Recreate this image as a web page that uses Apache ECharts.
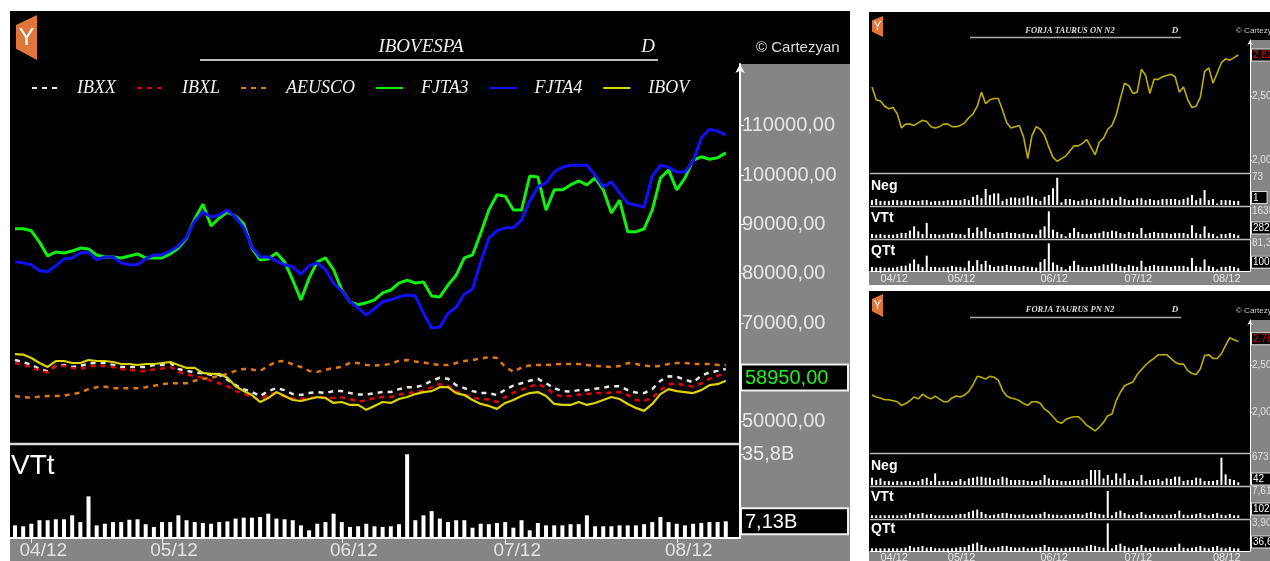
<!DOCTYPE html>
<html>
<head>
<meta charset="utf-8">
<title>IBOVESPA / FORJA TAURUS</title>
<script src="https://cdn.jsdelivr.net/npm/echarts@6/dist/echarts.min.js"></script>
<style>
  html, body { margin: 0; padding: 0; background: #fff; }
  #chart { width: 1270px; height: 561px; }
</style>
</head>
<body>
<div id="chart"></div>
<script>
// trading-day index where each month starts, and its label
const monthTicks = [2, 18, 40, 60, 81];
const monthLabels = ['04/12', '05/12', '06/12', '07/12', '08/12'];

// big chart: IBOVESPA comparison
const ibxx = [62500,62100,61500,60700,60200,61300,61500,61100,61300,61800,
  61900,61900,61500,61100,61100,61100,61100,61500,61500,61900,
  60700,60300,60000,59800,59500,59500,58500,57400,56600,56000,
  55200,56200,56800,56400,55600,55400,55800,56000,55800,56200,
  56200,55800,55500,55500,55800,56000,56000,56600,57000,57000,
  57400,58300,58900,58700,57400,56800,56200,55800,55800,55400,
  56500,57300,57800,58300,58700,57800,56800,56200,56100,56400,
  56400,56700,56900,57200,57200,56400,55900,55800,56600,58300,
  59200,59100,58500,58000,59300,60000,60300,60700];
const ibxl = [61900,61500,61100,60300,60000,61300,61300,60900,60700,61200,
  61300,61300,61100,60700,60500,60300,60200,60600,60800,61100,
  60100,59600,59200,58900,58300,57800,57200,56200,55700,55000,
  54400,55600,55800,55100,54700,54600,54800,54900,54900,54800,
  54900,54600,54100,54300,54800,55000,55000,55500,55800,56000,
  56300,57000,57600,57300,56100,55500,54900,54600,54500,54000,
  55000,55900,56500,57100,57600,56900,55600,55100,55200,55500,
  55600,55800,55800,55900,56000,55400,54400,54200,54800,56400,
  57600,57700,57400,57100,57800,58700,59300,59900];
const aeusco = [55200,55000,54800,55100,55200,55200,55300,55600,55900,56600,
  57000,57100,56800,56800,56800,56800,57000,57300,57600,57800,
  57800,57800,58300,58700,58900,59300,59700,60300,60700,60600,
  60300,61300,62200,62300,61600,61100,60300,60100,60500,60900,
  61100,61900,61900,61500,61400,61500,61700,62400,62500,62200,
  62000,61700,61500,61500,61900,62300,62500,62800,63100,62900,
  61100,60100,61000,61400,61500,61500,61600,61700,61700,61700,
  61500,61300,61200,61100,61300,61900,61700,61400,61200,61300,
  61700,61900,61900,61700,61700,61700,61500,61500];
const fjta3 = [89100,89100,88700,86400,83600,84400,84200,84600,85200,85000,
  83800,83400,83400,83200,83600,84000,83200,83200,83200,84000,
  85200,87200,91100,94100,89700,91300,92500,91700,90100,85200,
  82800,83000,84200,82400,78700,74700,79100,82400,83200,80800,
  76700,74300,73700,74100,74700,76100,76700,78100,78700,78100,
  78300,75500,75300,77700,79700,83200,83800,88200,92900,96000,
  95700,92900,92900,99800,99600,92900,97000,97000,98000,98800,
  98000,99400,97000,92300,94900,88500,88500,89100,92900,99400,
  101000,97000,99400,103000,103700,103200,103500,104500];
const fjta4 = [82400,82200,81800,80600,80400,81600,83000,83200,84200,84400,
  82800,83400,83400,82200,81800,81800,83000,83800,83800,84600,
  85600,87400,90700,92500,91500,91900,92900,91500,89300,85400,
  83400,83400,82600,81800,81400,79900,81600,82200,80800,78100,
  76500,74300,73100,71600,72900,74300,74700,75300,75700,75500,
  72000,69000,69200,72000,73200,75900,76900,82400,87200,88700,
  89300,89300,90900,94700,97600,98400,100600,101600,102000,102000,
  102000,100000,97600,98600,96400,94300,93900,93500,99800,102000,
  101600,100600,100600,102800,107500,109300,108900,108100];
const ibov = [63700,63600,62900,61900,61100,62300,62300,61900,61900,62500,
  62300,62300,62100,61700,61700,61500,61700,61700,61900,62100,
  61500,60900,60900,59900,59700,59700,58900,57200,56200,55400,
  54000,54800,56000,55200,54400,54200,54600,55000,54800,53800,
  54000,53400,53400,52400,53200,54000,53800,54600,55000,55600,
  56000,56200,57000,57000,55800,55400,54400,53600,53200,52600,
  53800,54400,55200,55800,56000,55200,53600,53400,53400,54000,
  53400,53800,54400,55000,54600,53600,52800,52200,53600,55600,
  56600,56200,56000,55800,56400,57400,57600,58300];
const ibovLast = 58950;
// traded volume, billions
const vtt = [5.4,5.0,6.1,7.6,7.6,8.0,8.0,9.7,6.8,17.8,
  5.4,6.1,6.8,6.8,7.8,8.0,5.9,4.7,6.8,6.8,
  9.7,7.6,6.8,6.4,6.1,6.8,7.1,8.3,8.7,8.7,
  9.0,10.4,8.3,8.0,7.6,5.4,3.3,6.1,6.8,10.4,
  6.8,4.7,5.0,6.1,5.0,4.7,5.0,5.9,35.8,7.6,
  9.7,11.5,8.3,6.8,7.6,7.6,4.4,6.1,5.9,6.4,
  6.8,4.4,7.6,3.3,6.4,5.4,5.4,5.4,5.9,5.9,
  9.7,5.0,5.0,5.0,5.4,5.4,5.4,5.9,6.8,9.0,
  6.8,6.1,5.4,6.1,6.4,6.8,6.8,7.13];

// FORJA TAURUS ON N2
const onN2 = [2.57,2.47,2.46,2.42,2.40,2.41,2.36,2.25,2.28,2.28,
  2.27,2.29,2.31,2.30,2.26,2.25,2.26,2.28,2.28,2.26,
  2.26,2.27,2.29,2.33,2.36,2.42,2.53,2.44,2.47,2.48,
  2.48,2.39,2.29,2.25,2.26,2.27,2.18,2.01,2.19,2.26,
  2.24,2.19,2.10,2.02,1.99,2.01,2.03,2.07,2.11,2.11,
  2.13,2.16,2.10,2.04,2.14,2.17,2.24,2.27,2.35,2.48,
  2.60,2.58,2.52,2.53,2.71,2.66,2.52,2.63,2.63,2.65,
  2.66,2.67,2.65,2.53,2.57,2.47,2.41,2.42,2.49,2.69,
  2.72,2.60,2.68,2.76,2.79,2.78,2.80,2.82];
const negOn = [13,16,11,11,11,13,13,11,13,13,
  11,11,13,13,9,11,11,11,13,13,
  13,13,16,13,22,27,18,43,27,31,
  31,11,16,20,20,18,20,25,22,16,
  11,22,27,45,73,7,16,16,13,11,
  13,16,13,16,13,18,13,18,13,22,
  16,13,13,18,18,13,16,13,13,16,
  16,16,16,13,16,20,27,13,18,40,
  13,16,4,13,13,13,11,11];
const vttOn = [24,20,24,20,20,20,24,31,31,45,
  71,41,24,92,24,24,20,24,24,31,
  24,24,20,61,31,65,41,61,37,24,
  31,31,37,31,31,24,31,24,24,20,
  51,71,163,51,37,24,10,31,61,37,
  24,24,24,31,31,41,37,45,41,31,
  24,37,31,24,61,24,31,37,31,31,
  31,24,31,31,31,24,78,31,24,71,
  31,24,10,24,24,31,24,16];
const qttOn = [12,10,12,10,10,10,12,15,16,22,
  34,20,12,45,12,12,10,12,12,15,
  12,12,10,30,15,32,20,30,18,12,
  15,15,18,15,15,12,15,12,12,10,
  26,35,81.3,25,18,12,5,15,30,18,
  12,12,12,15,15,20,18,22,20,15,
  12,18,15,12,30,12,15,18,15,15,
  15,12,15,15,15,12,38,15,12,34,
  15,12,5,12,12,15,12,8];

// FORJA TAURUS PN N2
const pnN2 = [2.18,2.16,2.15,2.13,2.13,2.12,2.11,2.07,2.09,2.12,
  2.16,2.14,2.19,2.16,2.14,2.17,2.14,2.11,2.11,2.15,
  2.17,2.16,2.18,2.22,2.29,2.38,2.37,2.35,2.38,2.37,
  2.34,2.23,2.17,2.15,2.14,2.12,2.09,2.07,2.11,2.11,
  2.09,2.03,2.00,1.95,1.90,1.88,1.92,1.94,1.95,1.95,
  1.91,1.86,1.83,1.80,1.84,1.89,1.96,1.98,2.12,2.21,
  2.28,2.30,2.32,2.40,2.45,2.50,2.54,2.57,2.61,2.61,
  2.61,2.57,2.53,2.51,2.51,2.44,2.41,2.40,2.46,2.60,
  2.61,2.57,2.57,2.62,2.71,2.79,2.77,2.75];
const pnLast = 2.78;
const negPn = [180,123,164,98,98,82,98,82,98,98,
  82,98,148,180,98,287,98,98,98,82,
  98,148,98,164,180,205,205,180,180,123,
  148,205,180,123,123,123,123,98,98,98,
  123,246,164,123,123,98,98,98,123,123,
  123,148,369,369,369,164,246,123,287,164,
  287,123,148,98,246,98,123,123,148,98,
  164,148,205,205,98,123,123,180,164,98,
  98,98,123,673,262,148,123,66];
const vttPn = [0.76,0.76,0.76,0.76,0.76,0.76,0.76,0.76,0.95,1.43,
  0.95,1.14,1.43,0.95,1.14,0.76,0.76,0.76,0.76,0.76,
  0.95,1.14,1.14,1.71,2.09,2.38,1.71,1.14,0.76,0.95,
  1.14,1.43,1.43,1.14,0.95,0.95,1.14,0.76,0.95,0.95,
  1.14,1.71,1.14,0.95,0.95,0.76,0.95,0.95,1.14,1.14,
  0.95,1.43,1.71,1.43,1.14,0.95,7.61,0.76,1.71,2.09,
  1.43,0.95,0.76,1.14,1.71,0.95,0.76,1.14,0.95,0.76,
  0.95,0.95,1.14,2.09,0.95,0.76,0.95,1.14,1.43,0.95,
  0.76,1.14,1.43,0.95,0.76,1.14,0.76,0.76];
const qttPn = [0.38,0.38,0.38,0.38,0.38,0.38,0.38,0.38,0.47,0.71,
  0.47,0.56,0.71,0.47,0.56,0.38,0.38,0.38,0.38,0.38,
  0.47,0.56,0.56,0.85,1.03,1.18,0.85,0.56,0.38,0.47,
  0.56,0.71,0.71,0.56,0.47,0.47,0.56,0.38,0.47,0.47,
  0.56,0.85,0.56,0.47,0.47,0.38,0.47,0.47,0.56,0.56,
  0.47,0.71,0.85,0.71,0.56,0.47,3.90,0.38,0.85,1.03,
  0.71,0.47,0.38,0.56,0.85,0.47,0.38,0.56,0.47,0.38,
  0.47,0.47,0.56,1.03,0.47,0.38,0.47,0.56,0.71,0.47,
  0.38,0.56,0.71,0.47,0.38,0.56,0.38,0.38];

// side labels of the small bar panels: [top text, boxed text]
const panelTexts = {
  negOn: ['73', '1'], vttOn: ['163K', '282'], qttOn: ['81,3', '100'],
  negPn: ['673', '42'], vttPn: ['7,61', '102K'], qttPn: ['3,90', '36,6']
};

const SANS = 'Liberation Sans, Arial, sans-serif';
const SERIF = 'Liberation Serif, Times New Roman, serif';
const GRAY = '#858585';
const pairs = arr => arr.map((v, i) => [i, v]);
const comma = (v, d) => v.toFixed(d).replace('.', ',');
const peak = arr => Math.max(...arr);

const chart = echarts.init(document.getElementById('chart'));

const bigX = { min: -0.61, max: 88.74 };
const smallX = { min: -0.475, max: 89.79 };

function hiddenX(grid, range) {
  return { type: 'value', gridIndex: grid, min: range.min, max: range.max, show: false };
}
function monthX(grid, range, opts) {
  return {
    type: 'value', gridIndex: grid, min: range.min, max: range.max,
    axisLine: { show: true, onZero: false, lineStyle: { color: '#fff', width: opts.lineW } },
    axisTick: { show: true, customValues: monthTicks, length: opts.tickLen, lineStyle: { color: '#fff' } },
    axisLabel: {
      customValues: monthTicks,
      formatter: v => monthLabels[monthTicks.indexOf(v)],
      color: '#e4e4e4', fontSize: opts.fontSize, fontFamily: SANS,
      margin: opts.margin, align: opts.align, padding: opts.padding
    },
    splitLine: { show: false }
  };
}
function barPanelY(grid, max, data, texts, boxVal) {
  const top = peak(data);
  return {
    type: 'value', gridIndex: grid, position: 'right', min: 0, max: max,
    axisLine: { show: true, onZero: false, lineStyle: { color: '#fff', width: 1 } },
    axisTick: { show: false },
    axisLabel: {
      customValues: [boxVal, top],
      formatter: v => v === top ? texts[0] : '{box|' + texts[1] + '}',
      color: '#e0e0e0', fontSize: 10, fontFamily: SANS, margin: 2,
      rich: { box: { color: '#fff', backgroundColor: '#000', borderColor: '#ddd', borderWidth: 1,
        padding: [1, 8, 0, 1], fontSize: 10, fontFamily: SANS } }
    },
    splitLine: { show: false }
  };
}
function priceY(grid, min, max, last) {
  return {
    type: 'value', gridIndex: grid, position: 'right', min: min, max: max,
    axisLine: { show: true, onZero: false, lineStyle: { color: '#fff', width: 1 },
      symbol: ['none', 'arrow'], symbolSize: [4, 5] },
    axisTick: { show: true, customValues: [2.0, 2.5], length: 2, lineStyle: { color: '#fff' } },
    axisLabel: {
      customValues: [2.0, 2.5, last],
      formatter: v => v === last ? '{cur|' + comma(v, 2) + '}' : comma(v, 2),
      color: '#e0e0e0', fontSize: 10, fontFamily: SANS, margin: 2,
      rich: { cur: { color: '#e00000', backgroundColor: '#000', borderColor: '#ddd', borderWidth: 1,
        padding: [1, 6, 0, 1], fontSize: 10, fontFamily: SANS } }
    },
    splitLine: { show: false }
  };
}
function smallBars(name, data, ax) {
  return { name: name, type: 'bar', xAxisIndex: ax, yAxisIndex: ax, data: pairs(data),
    barWidth: 2, itemStyle: { color: '#fff' }, silent: true };
}
function dashLine(name, data, color) {
  return { name: name, type: 'line', xAxisIndex: 0, yAxisIndex: 0, data: pairs(data),
    symbol: 'none', showSymbol: false,
    lineStyle: { color: color, width: 2.5, type: [5, 5] }, itemStyle: { color: color } };
}
function solidLine(name, data, color, w) {
  return { name: name, type: 'line', xAxisIndex: 0, yAxisIndex: 0, data: pairs(data),
    symbol: 'none', showSymbol: false,
    lineStyle: { color: color, width: w }, itemStyle: { color: color } };
}

function logo(x, y, w, h, size) {
  return [
    { type: 'polygon', z: -5, shape: { points: [[x, y + h * 0.22], [x + w, y], [x + w, y + h], [x, y + h * 0.75]] },
      style: { fill: '#e0763a' } },
    { type: 'text', z: -4, style: { text: 'Y', x: x + w * 0.5, y: y + h * 0.52, align: 'center', verticalAlign: 'middle',
      font: size + 'px ' + SANS, fill: '#fff' } }
  ];
}
function rect(x, y, w, h, fill) {
  return { type: 'rect', z: -10, shape: { x: x, y: y, width: w, height: h }, style: { fill: fill } };
}
function hline(x1, x2, y, color, w) {
  return { type: 'line', z: -3, shape: { x1: x1, y1: y, x2: x2, y2: y }, style: { stroke: color, lineWidth: w } };
}
function txt(text, x, y, font, fill, align, vAlign) {
  return { type: 'text', z: -2, style: { text: text, x: x, y: y, font: font, fill: fill,
    align: align || 'left', verticalAlign: vAlign || 'middle' } };
}

const graphic = [
  // backgrounds
  rect(10, 11, 840, 550, '#000'),
  rect(740, 64, 110, 497, GRAY),
  rect(10, 538, 730, 23, GRAY),
  rect(869, 12, 401, 273, '#000'),
  rect(1250, 40, 20, 245, GRAY),
  rect(869, 272, 381, 13, GRAY),
  rect(869, 291, 401, 270, '#000'),
  rect(1250, 320, 20, 241, GRAY),
  rect(869, 552, 381, 9, GRAY),
  // big chart decorations
  ...logo(16, 15, 21, 45, 24),
  txt('IBOVESPA', 421, 47, 'italic 19px ' + SERIF, '#eee', 'center'),
  txt('D', 648, 47, 'italic 19px ' + SERIF, '#eee', 'center'),
  hline(200, 658, 60, '#bdbdbd', 2),
  txt('\u00a9 Cartezyan', 756, 48, '15px ' + SANS, '#ddd'),
  hline(10, 740, 444, '#d8d8d8', 2.5),
  txt('VTt', 11, 466, '28px ' + SANS, '#fff'),
  // top right panel
  ...logo(872, 16, 11, 21, 12),
  txt('FORJA TAURUS ON N2', 1070, 31, 'italic bold 8.5px ' + SERIF, '#ddd', 'center'),
  txt('D', 1175, 31, 'italic bold 9px ' + SERIF, '#ddd', 'center'),
  hline(970, 1181, 37.5, '#aaa', 1.5),
  txt('\u00a9 Cartezyan', 1236, 31, '8px ' + SANS, '#ccc'),
  hline(870, 1250, 173.5, '#bbb', 1.5),
  hline(870, 1250, 206.5, '#bbb', 1.5),
  hline(870, 1250, 239.5, '#bbb', 1.5),
  txt('Neg', 871, 186, 'bold 14px ' + SANS, '#fff'),
  txt('VTt', 871, 218, 'bold 14px ' + SANS, '#fff'),
  txt('QTt', 871, 251, 'bold 14px ' + SANS, '#fff'),
  // bottom right panel
  ...logo(872, 294, 11, 23, 12),
  txt('FORJA TAURUS PN N2', 1070, 310, 'italic bold 8.5px ' + SERIF, '#ddd', 'center'),
  txt('D', 1175, 310, 'italic bold 9px ' + SERIF, '#ddd', 'center'),
  hline(970, 1181, 317.5, '#aaa', 1.5),
  txt('\u00a9 Cartezyan', 1236, 311, '8px ' + SANS, '#ccc'),
  hline(870, 1250, 453.5, '#bbb', 1.5),
  hline(870, 1250, 486.5, '#bbb', 1.5),
  hline(870, 1250, 519.5, '#bbb', 1.5),
  txt('Neg', 871, 466, 'bold 14px ' + SANS, '#fff'),
  txt('VTt', 871, 497, 'bold 14px ' + SANS, '#fff'),
  txt('QTt', 871, 529, 'bold 14px ' + SANS, '#fff')
];

const g = (left, top, width, height) => ({ left, top, width, height, outerBoundsMode: 'none', containLabel: false });

chart.setOption({
  animation: false,
  backgroundColor: '#fff',
  graphic: graphic,
  legend: {
    data: ['IBXX', 'IBXL', 'AEUSCO', 'FJTA3', 'FJTA4', 'IBOV'],
    left: 26, top: 74, itemWidth: 27, itemHeight: 16, itemGap: 20,
    itemStyle: { opacity: 0 },
    textStyle: { color: '#f0f0f0', fontFamily: SERIF, fontStyle: 'italic', fontSize: 18, padding: [0, 0, 0, 13] }
  },
  grid: [
    g(10, 64, 730, 380),
    g(10, 444, 730, 94),
    g(870, 40, 380, 133),
    g(870, 174, 380, 31),
    g(870, 207, 380, 31),
    g(870, 240, 380, 31),
    g(870, 320, 380, 133),
    g(870, 454, 380, 31),
    g(870, 487, 380, 31),
    g(870, 520, 380, 31)
  ],
  xAxis: [
    hiddenX(0, bigX),
    monthX(1, bigX, { lineW: 2, tickLen: 5, fontSize: 19, margin: 3, align: 'center', padding: [0, 0, 0, 24] }),
    hiddenX(2, smallX), hiddenX(3, smallX), hiddenX(4, smallX),
    monthX(5, smallX, { lineW: 1, tickLen: 2, fontSize: 11, margin: 2, align: 'left', padding: [0, 0, 0, 0] }),
    hiddenX(6, smallX), hiddenX(7, smallX), hiddenX(8, smallX),
    monthX(9, smallX, { lineW: 1, tickLen: 2, fontSize: 11, margin: 1, align: 'left', padding: [0, 0, 0, 0] })
  ],
  yAxis: [
    {
      type: 'value', gridIndex: 0, position: 'right', min: 45480, max: 122510,
      axisLine: { show: true, onZero: false, lineStyle: { color: '#fff', width: 2 },
        symbol: ['none', 'arrow'], symbolSize: [7, 9] },
      axisTick: { show: true, customValues: [50000, 60000, 70000, 80000, 90000, 100000, 110000], length: 4,
        lineStyle: { color: '#fff' } },
      axisLabel: {
        customValues: [50000, ibovLast, 70000, 80000, 90000, 100000, 110000],
        formatter: v => v === ibovLast ? '{cur|' + comma(v, 2) + '}' : comma(v, 2),
        color: '#e6e6e6', fontSize: 20, fontFamily: SANS, margin: 2,
        rich: { cur: { color: '#22ee22', backgroundColor: '#000', borderColor: '#f0f0f0', borderWidth: 2,
          padding: [3, 2, 1, 3], width: 100, fontSize: 20, fontFamily: SANS } }
      },
      splitLine: { show: false }
    },
    {
      type: 'value', gridIndex: 1, position: 'right', min: 0, max: 40.2,
      axisLine: { show: true, onZero: false, lineStyle: { color: '#fff', width: 2 } },
      axisTick: { show: true, customValues: [vtt[vtt.length - 1], peak(vtt)], length: 4, lineStyle: { color: '#fff' } },
      axisLabel: {
        customValues: [vtt[vtt.length - 1], peak(vtt)],
        formatter: v => v === peak(vtt) ? comma(v, 1) + 'B' : '{cur|' + comma(v, 2) + 'B}',
        color: '#e6e6e6', fontSize: 20, fontFamily: SANS, margin: 2,
        rich: { cur: { color: '#fff', backgroundColor: '#000', borderColor: '#f0f0f0', borderWidth: 2,
          padding: [3, 2, 1, 3], width: 100, fontSize: 20, fontFamily: SANS } }
      },
      splitLine: { show: false }
    },
    priceY(2, 1.898, 2.9375, onN2[onN2.length - 1]),
    barPanelY(3, 83, negOn, panelTexts.negOn, 20),
    barPanelY(4, 189, vttOn, panelTexts.vttOn, 61),
    barPanelY(5, 91, qttOn, panelTexts.qttOn, 26),
    priceY(6, 1.564, 2.979, pnLast),
    barPanelY(7, 764, negPn, panelTexts.negPn, 148),
    barPanelY(8, 8.74, vttPn, panelTexts.vttPn, 2.54),
    barPanelY(9, 4.36, qttPn, panelTexts.qttPn, 1.27)
  ],
  series: [
    dashLine('IBXX', ibxx, '#e8e8e8'),
    dashLine('IBXL', ibxl, '#e80000'),
    dashLine('AEUSCO', aeusco, '#e07810'),
    solidLine('FJTA3', fjta3, '#10f010', 3),
    solidLine('FJTA4', fjta4, '#1010ff', 3),
    solidLine('IBOV', ibov, '#dcd400', 2.2),
    { name: 'VTt', type: 'bar', xAxisIndex: 1, yAxisIndex: 1, data: pairs(vtt), barWidth: 4,
      itemStyle: { color: '#fff' }, silent: true },
    { name: 'FORJA TAURUS ON N2', type: 'line', xAxisIndex: 2, yAxisIndex: 2, data: pairs(onN2), symbol: 'none',
      lineStyle: { color: '#bfae00', width: 1.6 } },
    smallBars('Neg ON', negOn, 3),
    smallBars('VTt ON', vttOn, 4),
    smallBars('QTt ON', qttOn, 5),
    { name: 'FORJA TAURUS PN N2', type: 'line', xAxisIndex: 6, yAxisIndex: 6, data: pairs(pnN2), symbol: 'none',
      lineStyle: { color: '#bfae00', width: 1.6 } },
    smallBars('Neg PN', negPn, 7),
    smallBars('VTt PN', vttPn, 8),
    smallBars('QTt PN', qttPn, 9)
  ]
});
</script>
</body>
</html>
